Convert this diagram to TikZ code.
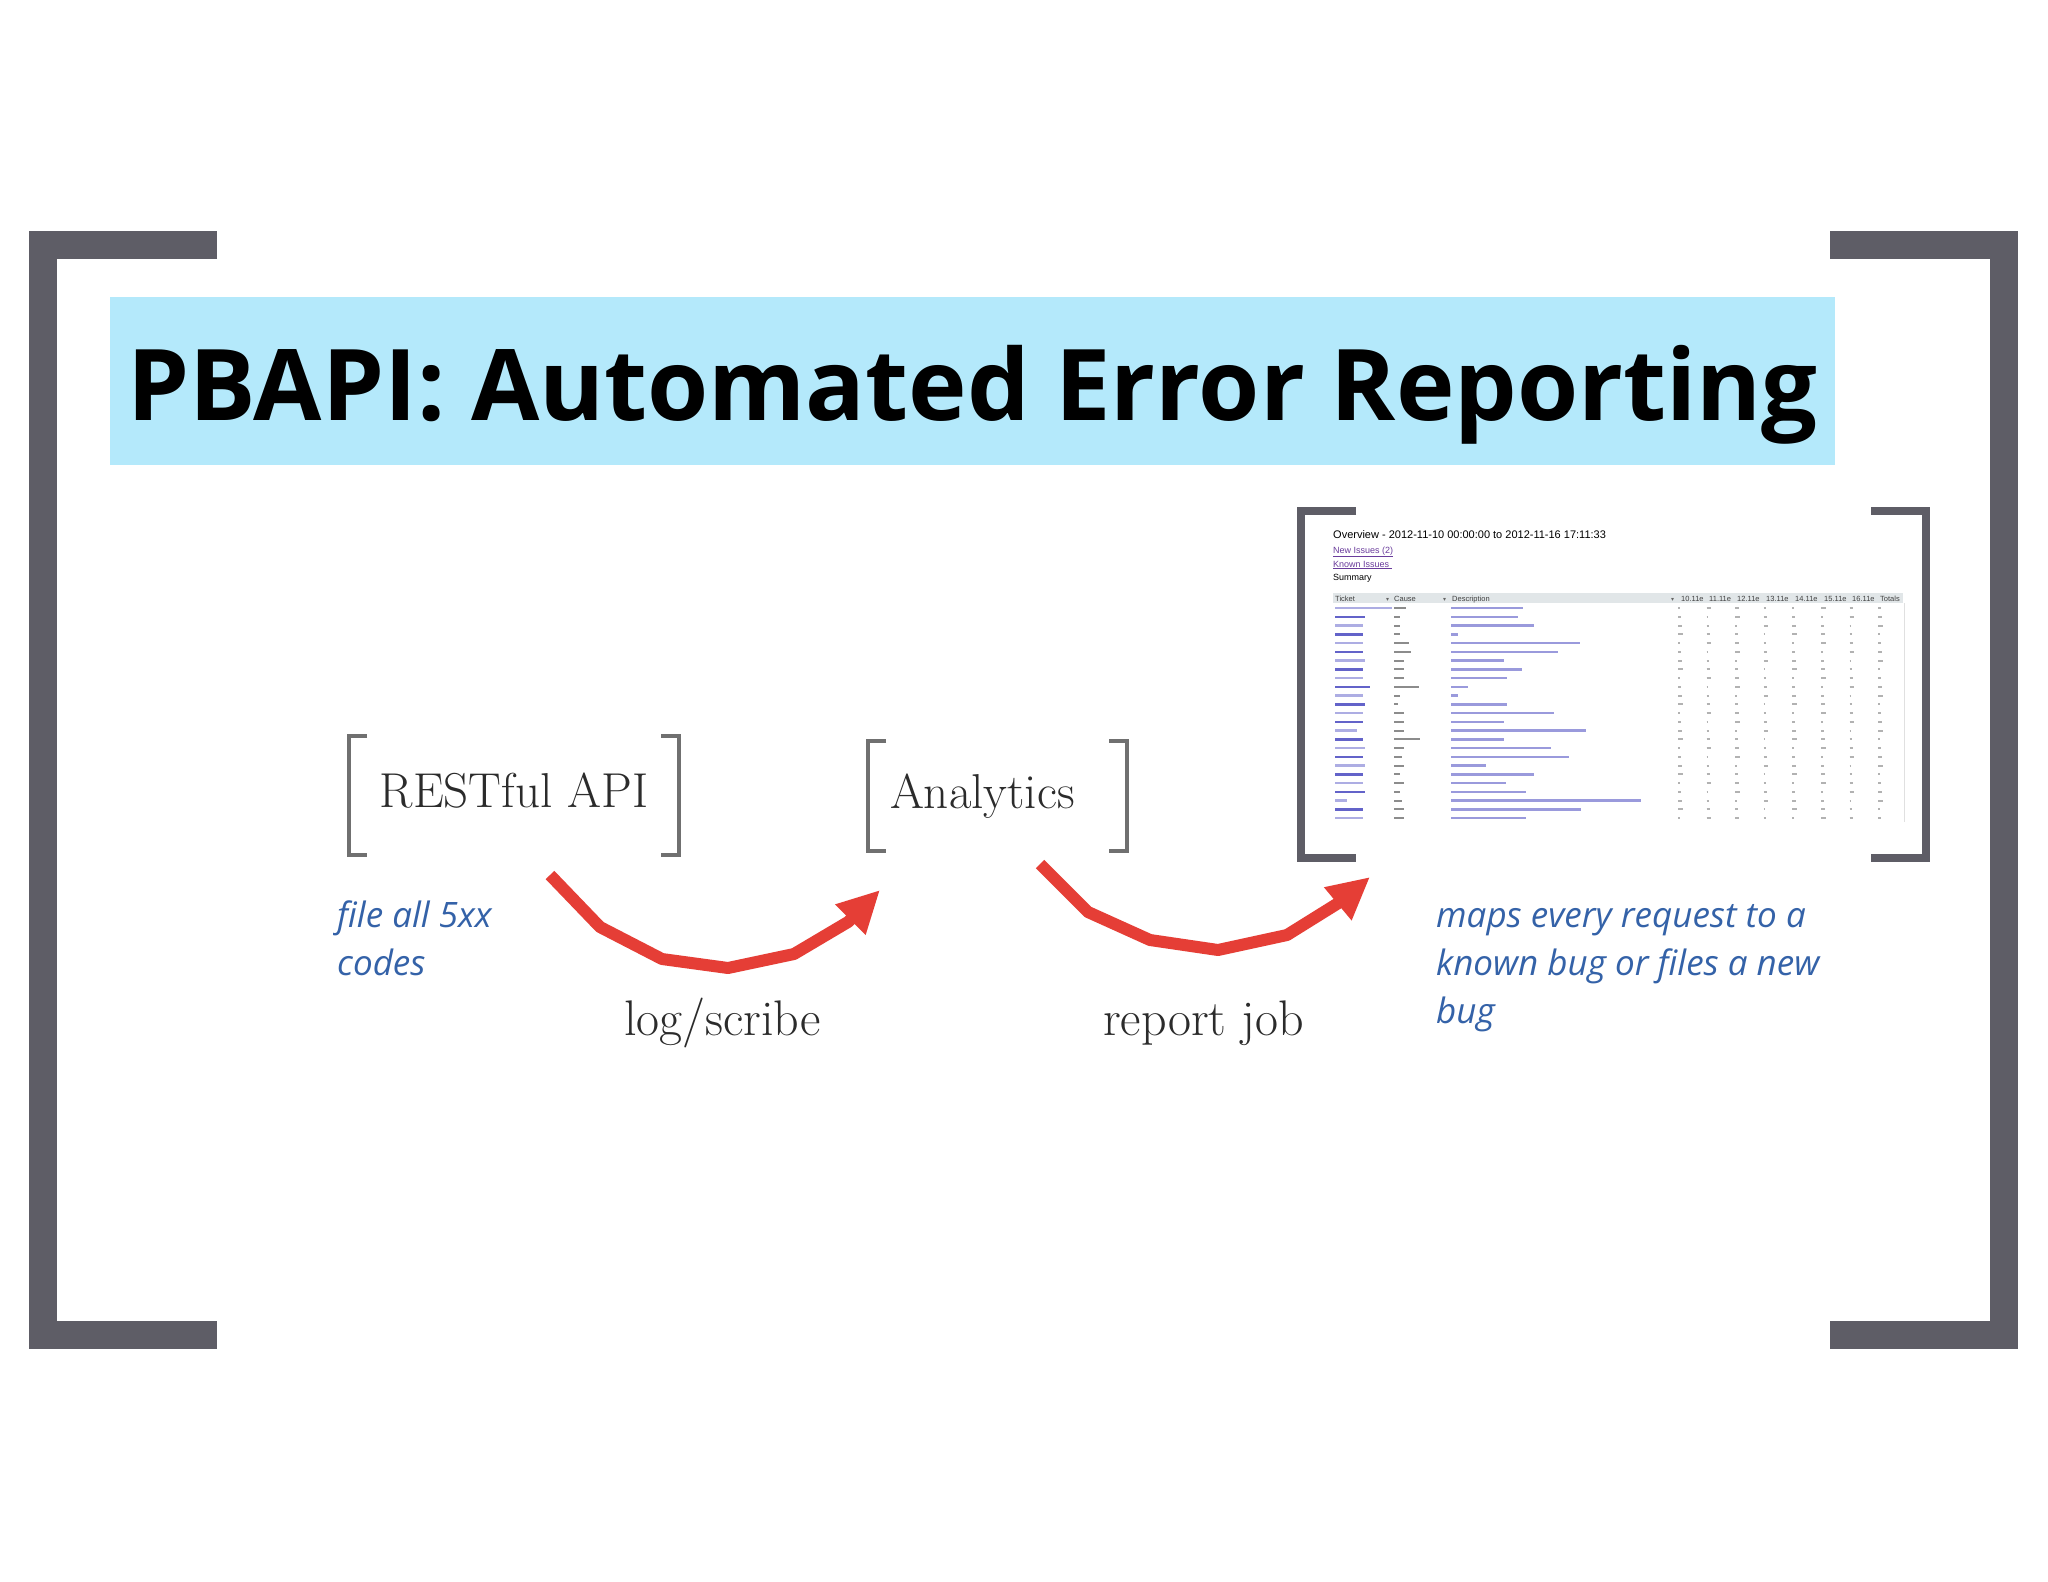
\documentclass[tikz,border=0pt]{standalone}
\usepackage{fontspec}
\usetikzlibrary{arrows.meta}
\newfontfamily\opensans{Open Sans}
\newfontfamily\shotfont{Liberation Sans}
\newfontfamily\symfont{DejaVu Sans}
\definecolor{framegray}{HTML}{5E5D66}
\definecolor{titlecyan}{HTML}{B4E9FB}
\definecolor{boxgray}{HTML}{707070}
\definecolor{inkgray}{HTML}{2B2B2B}
\definecolor{noteblue}{HTML}{3462A8}
\definecolor{arrowred}{HTML}{E53E36}
\definecolor{linkblue}{HTML}{4848C0}
\definecolor{linkpurple}{HTML}{6A3C9C}
\definecolor{headgray}{HTML}{E1E6E8}
% brackets round a named node: node, arm length, style
\newcommand{\drawbrackets}[3]{%
  \draw[#3] ([xshift=#2]#1.north west) -- (#1.north west) -- (#1.south west) -- ([xshift=#2]#1.south west);
  \draw[#3] ([xshift=-#2]#1.north east) -- (#1.north east) -- (#1.south east) -- ([xshift=-#2]#1.south east);}
\begin{document}
\begin{tikzpicture}[x=1pt, y=-1pt]
  \tikzstyle{area}=[inner sep=0pt, outer sep=0pt]
  \tikzstyle{titlebox}=[area, fill=titlecyan, minimum width=1725pt, minimum height=168pt, text height=78pt, text depth=0pt, font=\opensans\bfseries\fontsize{99}{110}\selectfont]
  \tikzstyle{boxlabel}=[area, text=inkgray, text height=24pt, text depth=0pt, font=\fontsize{49}{52}\selectfont]
  \tikzstyle{edgelabel}=[inner sep=0pt, anchor=base, text=inkgray, font=\fontsize{50}{52}\selectfont]
  \tikzstyle{note}=[inner sep=0pt, anchor=base west, align=left, text=noteblue, font=\opensans\itshape\fontsize{35}{48}\selectfont]
  \tikzstyle{redarrow}=[draw=arrowred, line width=12pt, line join=round, -{Triangle[length=42pt,width=40pt]}]
  \tikzstyle{shottext}=[inner sep=0pt, anchor=base west, font=\shotfont\fontsize{9}{10}\selectfont]
  \tikzstyle{shothead}=[inner sep=0pt, anchor=base west, text=black!75, font=\shotfont\fontsize{7.5}{8}\selectfont]
  \tikzstyle{sortmark}=[inner sep=0pt, anchor=base west, text=black!60, font=\symfont\fontsize{6}{6}\selectfont]

  \fill[white] (0,0) rectangle (2048,1582);

  % frame and title
  \node[area, minimum width=1961pt, minimum height=1090pt] (frame) at (1023.5,790) {};
  \drawbrackets{frame}{174pt}{framegray, line width=28pt}
  \node[titlebox] (title) at (972.5,381) {PBAPI: Automated Error Reporting};

  % the two boxes
  \node[boxlabel, minimum width=330pt, minimum height=119pt] (api) at (514,795.5) {RESTful API};
  \node[boxlabel, minimum width=259pt, minimum height=110pt, text width=215pt, align=left, inner xsep=22pt] (ana) at (997.5,796) {Analytics};
  \drawbrackets{api}{18pt}{boxgray, line width=3.5pt}
  \drawbrackets{ana}{18pt}{boxgray, line width=3.5pt}

  % report screenshot
  \node[area, minimum width=625pt, minimum height=347pt] (shot) at (1613.5,684.5) {};
  \drawbrackets{shot}{55pt}{framegray, line width=8pt}
  \node[shottext, font=\shotfont\fontsize{11}{12}\selectfont] (overview) at (1333,538) {Overview - 2012-11-10 00:00:00 to 2012-11-16 17:11:33};
  \node[shottext, text=linkpurple] (newissues) at (1333,553) {\underline{New Issues (2)}};
  \node[shottext, text=linkpurple] (knownissues) at (1333,567) {\underline{Known Issues\ }};
  \node[shottext] (summary) at (1333,580) {Summary};
  \fill[headgray] (1333,593) rectangle (1903,603);
  \node[shothead] (hticket) at (1335,601) {Ticket};
  \node[sortmark] at (1386,601) {▾};
  \node[shothead] (hcause) at (1394,601) {Cause};
  \node[sortmark] at (1443,601) {▾};
  \node[shothead] (hdesc) at (1452,601) {Description};
  \node[sortmark] at (1671,601) {▾};
  \foreach \colx/\colname in {1681/10.11e, 1709/11.11e, 1737/12.11e, 1766/13.11e, 1795/14.11e, 1824/15.11e, 1852/16.11e, 1880/Totals}
    \node[shothead] at (\colx,601) {\colname};
  \draw[black!12, line width=1pt] (1904,603) -- (1904,822);
  \foreach \tk/\cs/\ds [count=\i from 0] in {57/12/72, 30/6/67, 28/6/83, 28/6/7, 28/15/129, 28/17/107, 30/10/53, 28/10/71, 28/10/56, 35/25/17, 28/6/7, 30/4/56, 28/10/103, 28/10/53, 22/10/135, 28/26/53, 30/10/100, 28/8/118, 30/10/35, 28/6/83, 28/10/55, 30/6/75, 12/8/190, 28/10/130, 28/10/75} {
    \pgfmathsetmacro\yy{608+\i*8.75}
    \pgfmathsetmacro\shade{mod(\i,2)==1 ? 85 : 45}
    \draw[linkblue!\shade, line width=2.5pt] (1335,\yy) -- ++(\tk,0);
    \draw[black!45, line width=2pt] (1394,\yy) -- ++(\cs,0);
    \draw[linkblue!55, line width=2.5pt] (1451,\yy) -- ++(\ds,0);
    \foreach \j in {0,...,7} {
      \pgfmathsetmacro\ww{1.5+mod(\i*5+\j*3,4)}
      \draw[black!30, line width=2pt] (1678+\j*28.6,\yy) -- ++(\ww,0);
    }
  }

  % arrows and labels
  \draw[redarrow] ([shift={(36pt,-20pt)}]api.south) -- (600,927) -- (662,959) -- (728,968) -- (794,954) -- (848,922) -- ([shift={(12pt,-39pt)}]ana.south west);
  \draw[redarrow] ([shift={(42.5pt,-13pt)}]ana.south) -- (1088,912) -- (1150,940) -- (1218,950) -- (1287,935) -- (1340,902) -- ([shift={(69pt,-19pt)}]shot.south west);
  \node[edgelabel] (logscribe) at (722.5,1035) {log/scribe};
  \node[edgelabel] (reportjob) at (1203.5,1035) {report job};
  % multi-line nodes sit on their last line
  \node[note] (filenote) at (337,975) {file all 5xx\\codes};
  \node[note] (mapnote) at (1436,1023) {maps every request to a\\known bug or files a new\\bug};
\end{tikzpicture}
\end{document}
